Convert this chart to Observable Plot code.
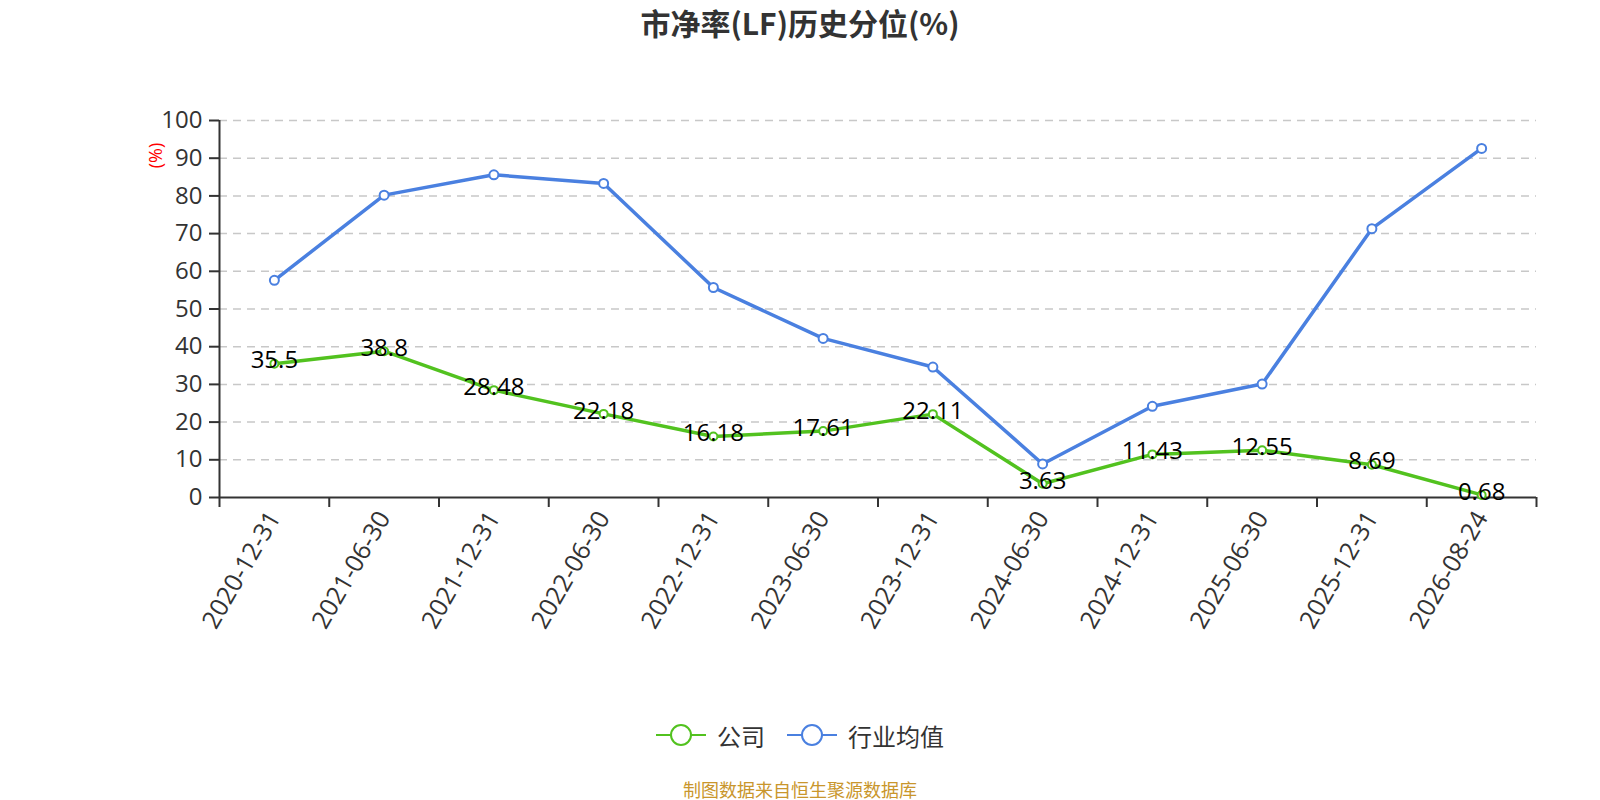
<!DOCTYPE html>
<html>
<head>
<meta charset="utf-8">
<script src="https://cdn.jsdelivr.net/npm/d3@7"></script>
<script src="https://cdn.jsdelivr.net/npm/@observablehq/plot@0.6"></script>
<style>
  body { margin: 0; background: #fff; font-family: "Open Sans", "Noto Sans CJK SC", sans-serif; }
  #wrap { width: 1600px; position: relative; }
  #title { width: 1600px; height: 45px; line-height: 45px; text-align: center; font-size: 30px; font-weight: bold; color: #333; font-family: "Noto Sans CJK SC", sans-serif; }
  #chart { height: 620px; }
  #legend { width: 1600px; margin-top: 50px; height: 40px; display: flex; justify-content: center; align-items: center; gap: 22px; font-family: "Noto Sans CJK SC", sans-serif; font-size: 24px; color: #333; }
  .item { display: flex; align-items: center; gap: 11px; }
  #caption { width: 1600px; text-align: center; margin-top: 22px; line-height: 24px; font-size: 18px; color: #c9962c; font-family: "Noto Sans CJK SC", sans-serif; }
</style>
</head>
<body>
<div id="wrap">
  <div id="title">市净率(LF)历史分位(%)</div>
  <div id="chart"></div>
  <div id="legend"></div>
  <div id="caption">制图数据来自恒生聚源数据库</div>
</div>
<script>
const dates = ["2020-12-31","2021-06-30","2021-12-31","2022-06-30","2022-12-31","2023-06-30","2023-12-31","2024-06-30","2024-12-31","2025-06-30","2025-12-31","2026-08-24"];
const company = [35.5, 38.8, 28.48, 22.18, 16.18, 17.61, 22.11, 3.63, 11.43, 12.55, 8.69, 0.68];
const industry = [57.6, 80.2, 85.6, 83.3, 55.7, 42.2, 34.6, 8.9, 24.2, 30.1, 71.3, 92.6];
const seriesNames = ["公司", "行业均值"];
const seriesColors = ["#52c21f", "#4a80e0"];
const yTicks = d3.range(0, 101, 10);

const idx = dates.map((d, i) => i);
const compRows = idx.map(i => ({i, v: company[i]}));
const indRows = idx.map(i => ({i, v: industry[i]}));

const chart = Plot.plot({
  width: 1600,
  height: 620,
  marginLeft: 219,
  marginRight: 64,
  marginTop: 75,
  marginBottom: 168,
  style: {fontFamily: '"Open Sans", "Noto Sans CJK SC", sans-serif', background: "#fff"},
  x: {type: "linear", domain: [-0.5, dates.length - 0.5], axis: null},
  y: {domain: [0, 100], axis: null},
  marks: [
    Plot.ruleY(yTicks.filter(t => t > 0), {stroke: "#c8c8c8", strokeWidth: 1.5, strokeDasharray: "8,6"}),
    Plot.axisY({ticks: yTicks, tickSize: 10, tickPadding: 7, fontSize: 24, color: "#333", stroke: "#333", strokeWidth: 2, label: null}),
    Plot.ruleX([-0.5], {stroke: "#333", strokeWidth: 2}),
    Plot.ruleY([0], {stroke: "#333", strokeWidth: 2}),
    Plot.axisX({ticks: d3.range(-0.5, dates.length, 1), tickSize: 10, tickFormat: () => "", stroke: "#333", strokeWidth: 2, label: null}),
    Plot.axisX({ticks: idx, tickSize: 0, tickPadding: 16, tickRotate: -60, tickFormat: i => dates[i], fontSize: 25, color: "#333", label: null}),
    Plot.text(["(%)"], {frameAnchor: "top-left", dx: -63, dy: 35, rotate: -90, fill: "red", fontSize: 18, textAnchor: "middle", lineAnchor: "middle"}),
    Plot.line(indRows, {x: "i", y: "v", stroke: seriesColors[1], strokeWidth: 3.5}),
    Plot.line(compRows, {x: "i", y: "v", stroke: seriesColors[0], strokeWidth: 3.5}),
    Plot.dot(indRows, {x: "i", y: "v", r: 4.5, fill: "white", stroke: seriesColors[1], strokeWidth: 2}),
    Plot.dot(compRows, {x: "i", y: "v", r: 4, fill: "white", stroke: seriesColors[0], strokeWidth: 2}),
    Plot.text(compRows, {x: "i", y: "v", text: d => String(d.v), dy: -3, fill: "black", fontSize: 24, textAnchor: "middle", lineAnchor: "middle"})
  ]
});
document.getElementById("chart").appendChild(chart);

const legend = document.getElementById("legend");
seriesNames.forEach((name, k) => {
  const item = document.createElement("div");
  item.className = "item";
  item.innerHTML = `<svg width="50" height="26"><line x1="0" y1="13" x2="50" y2="13" stroke="${seriesColors[k]}" stroke-width="2"/><circle cx="25" cy="13" r="10" fill="white" stroke="${seriesColors[k]}" stroke-width="2"/></svg><span>${name}</span>`;
  legend.appendChild(item);
});
</script>
</body>
</html>
